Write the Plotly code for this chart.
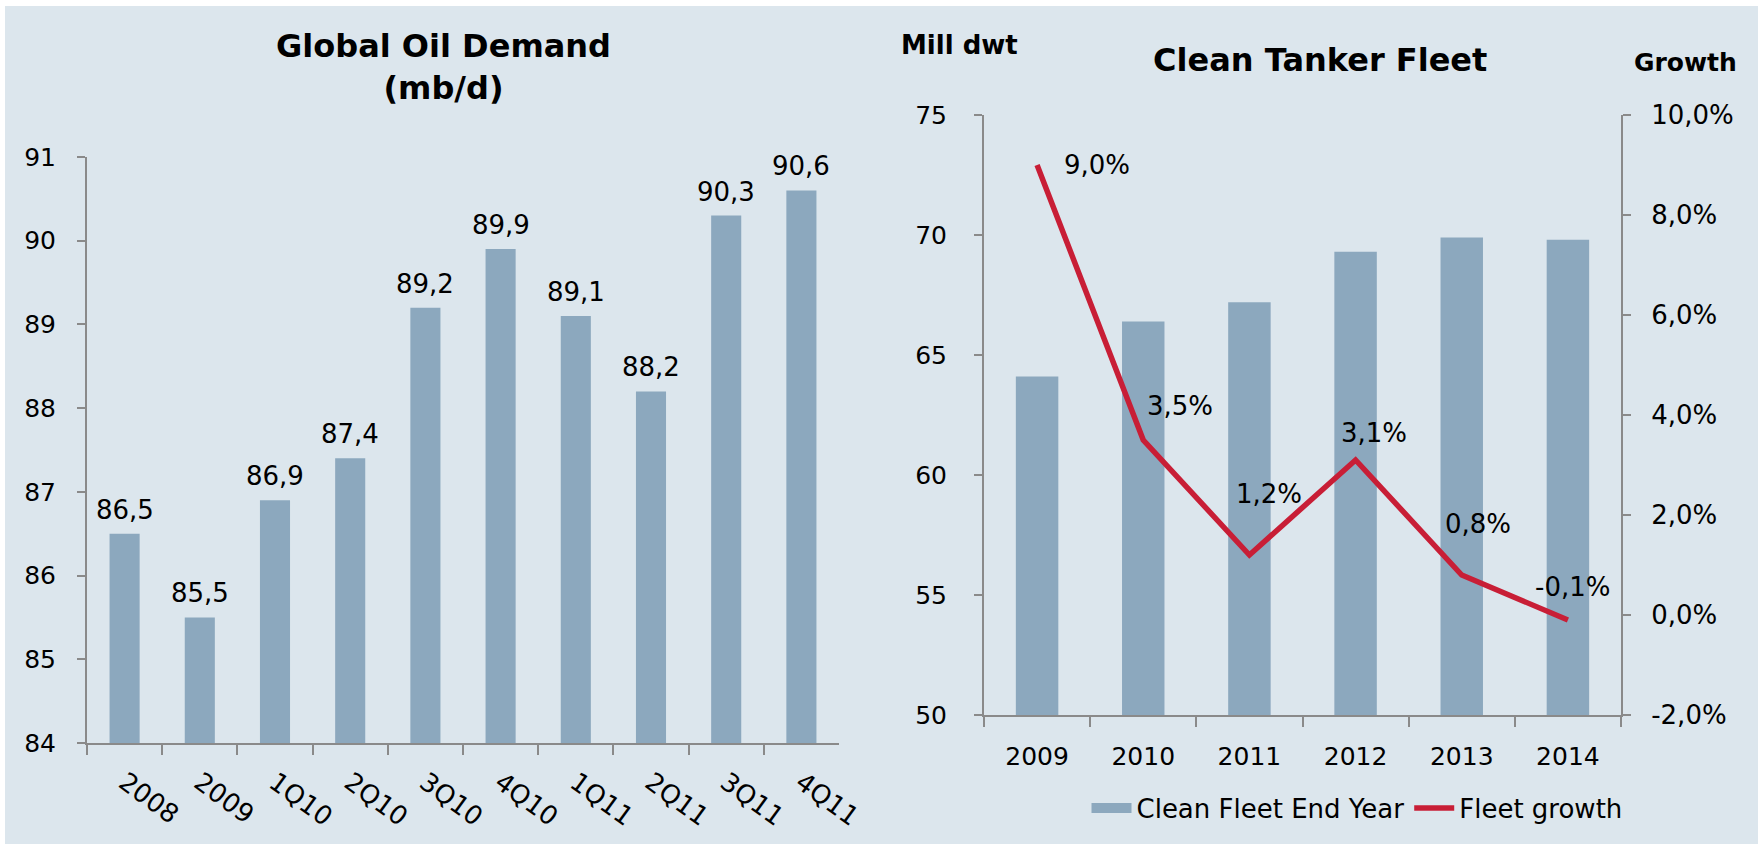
import plotly.graph_objects as go

# ---------------- data ----------------
demand_periods = ["2008", "2009", "1Q10", "2Q10", "3Q10", "4Q10", "1Q11", "2Q11", "3Q11", "4Q11"]
demand_values = [86.5, 85.5, 86.9, 87.4, 89.2, 89.9, 89.1, 88.2, 90.3, 90.6]
demand_ticks = [84, 85, 86, 87, 88, 89, 90, 91]

fleet_years = ["2009", "2010", "2011", "2012", "2013", "2014"]
fleet_values = [64.1, 66.4, 67.2, 69.3, 69.9, 69.8]
growth_values = [9.0, 3.5, 1.2, 3.1, 0.8, -0.1]
fleet_ticks = [50, 55, 60, 65, 70, 75]
growth_ticks = [-2, 0, 2, 4, 6, 8, 10]

# ---------------- style ----------------
W, H = 1758, 844
BG = "#DCE6ED"
BAR = "#8CA8BE"
RED = "#C81E36"
AXIS = "#8A8A8A"
FONT = "DejaVu Sans"
FS = 25
LFS = 26

def comma(v, nd=1, suffix=""):
    return f"{v:.{nd}f}".replace(".", ",") + suffix

# label offsets (px) for growth labels: (xshift, yshift)
growth_label_shift = [(60, 0), (37, 34), (20, 61), (18, 27), (16, 51), (5, 33)]

fig = go.Figure()

fig.add_trace(go.Bar(
    x=demand_periods, y=demand_values, marker=dict(color=BAR, line=dict(width=0)),
    xaxis="x", yaxis="y", showlegend=False, hoverinfo="skip",
))
fig.add_trace(go.Bar(
    x=fleet_years, y=fleet_values, name="Clean Fleet End Year",
    marker=dict(color=BAR, line=dict(width=0)),
    xaxis="x2", yaxis="y2", hoverinfo="skip", showlegend=False, legendgroup="fleet",
))
# legend entry only (wide rectangular swatch like the original legend key)
fig.add_trace(go.Scatter(
    x=[None], y=[None], name="Clean Fleet End Year", mode="lines",
    line=dict(color=BAR, width=14), xaxis="x2", yaxis="y2", legendgroup="fleet",
))
fig.add_trace(go.Scatter(
    x=fleet_years, y=growth_values, name="Fleet growth", mode="lines",
    line=dict(color=RED, width=5.5), xaxis="x2", yaxis="y3", hoverinfo="skip",
))

annotations = []
for i, v in enumerate(demand_values):
    annotations.append(dict(x=i, y=v, xref="x", yref="y", text=comma(v), showarrow=False,
                            xanchor="center", yanchor="middle", yshift=24,
                            font=dict(family=FONT, size=LFS, color="black")))
for i, (g, (dx, dy)) in enumerate(zip(growth_values, growth_label_shift)):
    annotations.append(dict(x=i, y=g, xref="x2", yref="y3", text=comma(g, 1, "%"), showarrow=False,
                            xanchor="center", yanchor="middle", xshift=dx, yshift=dy,
                            font=dict(family=FONT, size=LFS, color="black")))

annotations += [
    dict(x=443 / W, y=1 - 67 / H, xref="paper", yref="paper", text="<b>Global Oil Demand</b><br><b>(mb/d)</b>",
         showarrow=False, xanchor="center", yanchor="middle",
         font=dict(family=FONT, size=32, color="black")),
    dict(x=1320 / W, y=1 - 60 / H, xref="paper", yref="paper", text="<b>Clean Tanker Fleet</b>",
         showarrow=False, xanchor="center", yanchor="middle",
         font=dict(family=FONT, size=32, color="black")),
    dict(x=899 / W, y=1 - 45 / H, xref="paper", yref="paper", text="<b>Mill dwt</b>",
         showarrow=False, xanchor="left", yanchor="middle",
         font=dict(family=FONT, size=26, color="black")),
    dict(x=1632 / W, y=1 - 62 / H, xref="paper", yref="paper", text="<b>Growth</b>",
         showarrow=False, xanchor="left", yanchor="middle",
         font=dict(family=FONT, size=25, color="black")),
]

axis_common = dict(showgrid=False, zeroline=False, showline=True, linecolor=AXIS, linewidth=2,
                   ticks="outside", tickcolor=AXIS, tickwidth=2, automargin=False,
                   tickfont=dict(family=FONT, size=FS, color="black"))

fig.update_layout(
    width=W, height=H,
    margin=dict(l=0, r=0, t=0, b=0, pad=0, autoexpand=False),
    paper_bgcolor="white", plot_bgcolor="rgba(0,0,0,0)",
    bargap=0.6,
    font=dict(family=FONT, size=FS, color="black"),
    shapes=[dict(type="rect", xref="paper", yref="paper", x0=5 / W, x1=1, y0=0, y1=1 - 6 / H,
                 fillcolor=BG, line=dict(width=0), layer="below")],
    annotations=annotations,
    xaxis=dict(domain=[87 / W, 839 / W], anchor="y", type="category", tickson="boundaries",
               range=[-0.5, len(demand_periods) - 0.5],
               ticklen=10, tickangle=36, ticklabelstandoff=12,
               **{**axis_common, "tickfont": dict(family=FONT, size=26, color="black")}),
    yaxis=dict(domain=[1 - 743 / H, 1 - 157 / H], anchor="x", range=[84, 91],
               tickvals=demand_ticks, ticktext=[str(t) for t in demand_ticks],
               ticklen=8, ticklabelstandoff=16, **axis_common),
    xaxis2=dict(domain=[984 / W, 1621 / W], anchor="y2", type="category", tickson="boundaries",
                range=[-0.5, len(fleet_years) - 0.5],
                ticklen=10, ticklabelstandoff=18, tickangle=0, **axis_common),
    yaxis2=dict(domain=[1 - 715 / H, 1 - 115 / H], anchor="x2", range=[50, 75],
                tickvals=fleet_ticks, ticktext=[str(t) for t in fleet_ticks],
                ticklen=8, ticklabelstandoff=22, **axis_common),
    yaxis3=dict(overlaying="y2", anchor="x2", side="right", range=[-2, 10],
                tickvals=growth_ticks, ticktext=[comma(t, 1, "%") for t in growth_ticks],
                ticklen=8, ticklabelstandoff=15,
                **{**axis_common, "tickfont": dict(family=FONT, size=26, color="black")}),
    legend=dict(orientation="h", x=1357 / W, y=1 - 808 / H, xanchor="center", yanchor="middle",
                bgcolor="rgba(0,0,0,0)", font=dict(family=FONT, size=26, color="black"),
                itemwidth=40, tracegroupgap=0),
)

post = "document.body.style.margin='0';document.body.style.overflow='hidden';"
fig.write_html("out.html", config={"displayModeBar": False}, post_script=post)
